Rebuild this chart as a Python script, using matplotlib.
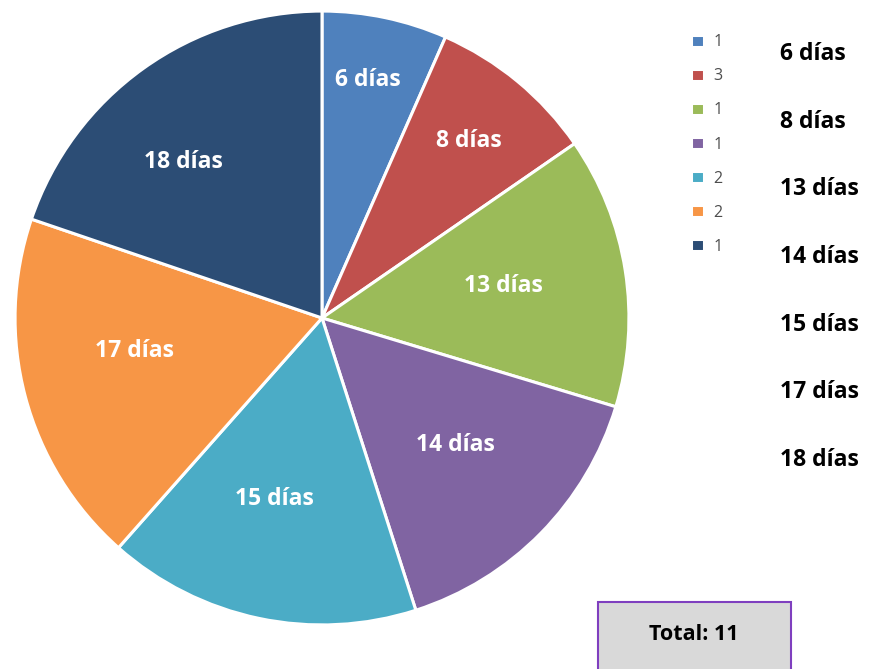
import numpy as np
import matplotlib.pyplot as plt
from matplotlib.patches import Rectangle

# datos
dias = [6, 8, 13, 14, 15, 17, 18]
etiquetas = ['6 días', '8 días', '13 días', '14 días', '15 días', '17 días', '18 días']
cantidad = [1, 3, 1, 1, 2, 2, 1]
total = 11
colores = ['#4F81BD', '#C0504D', '#9BBB59', '#8064A2', '#4BACC6', '#F79646', '#2C4D75']

plt.rcParams['font.family'] = ['Open Sans', 'DejaVu Sans']

W, H = 873, 669
fig = plt.figure(figsize=(W / 100, H / 100), dpi=100)

cx, cy, r = 322, 318, 310
ax = fig.add_axes([(cx - r) / W, (H - cy - r) / H, 2 * r / W, 2 * r / H])
wedges, _ = ax.pie(dias, colors=colores, startangle=90, counterclock=False,
                   labels=None, radius=1.0,
                   wedgeprops=dict(edgecolor='white', linewidth=2.2))
ax.set_aspect('equal')
ax.set_xlim(-1.01, 1.01)
ax.set_ylim(-1.01, 1.01)

# posicion de cada etiqueta (distancia al centro y giro en grados)
dist = [0.79, 0.75, 0.60, 0.60, 0.61, 0.62, 0.68]
giro = [1, 0, 1, 1, -3, -5, 6]
for w, lab, d, g in zip(wedges, etiquetas, dist, giro):
    ang = np.deg2rad((w.theta1 + w.theta2) / 2 + g)
    ax.text(d * np.cos(ang), d * np.sin(ang), lab, ha='center', va='center',
            color='white', fontsize=16.5, fontweight='bold')

# leyenda
leg = fig.legend(wedges, [str(c) for c in cantidad], loc='upper left',
                 bbox_to_anchor=(685 / W, 1 - 28 / H), frameon=False,
                 fontsize=11.5, labelspacing=1.13, handlelength=0.8,
                 handleheight=0.8, handletextpad=0.6, borderaxespad=0)
for t in leg.get_texts():
    t.set_color('#4D4D4D')

for i, lab in enumerate(etiquetas):
    fig.text(780 / W, 1 - (54 + 67.7 * i) / H, lab, ha='left', va='center',
             fontsize=16.5, fontweight='bold', color='black')

# caja total
fig.patches.append(Rectangle((598 / W, -0.05), 193 / W, 0.05 + (H - 602) / H,
                             transform=fig.transFigure, facecolor='#D9D9D9',
                             edgecolor='#7F3FBF', linewidth=1.5))
fig.text(694 / W, 1 - 634 / H, f'Total: {total}', ha='center', va='center',
         fontsize=15.5, fontweight='bold', color='black')

fig.savefig('out.png', dpi=100)
